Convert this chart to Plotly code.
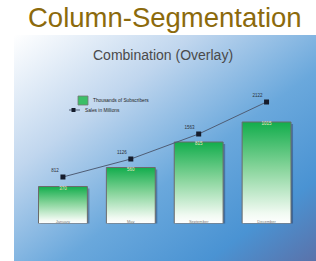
import base64
import plotly.graph_objects as go

categories = ["January", "May", "September", "December"]
subscribers = [370, 560, 815, 1015]          # Thousands of Subscribers (bars)
sales = [812, 1126, 1563, 2122]              # Sales in Millions (line)
sales_labels = ["812", "1126", "1563", "2122"]
sub_labels = ["370", "560", "815", "1015"]

W, H = 316, 261
def px(x):
    return x / W
def py(y):
    return 1 - y / H

xpos = list(range(len(categories)))
bw = 0.72

fig = go.Figure()

# shadows of bars
fig.add_trace(go.Bar(x=xpos, y=subscribers, base=[-20] * 4, width=bw, offset=-bw / 2 + 0.03,
                     marker=dict(color="rgba(25,35,70,0.35)", line=dict(width=0)),
                     hoverinfo="skip", showlegend=False))

# gradient bars
for i, v in enumerate(subscribers):
    fig.add_trace(go.Scatter(
        x=[i - bw / 2, i + bw / 2, i + bw / 2, i - bw / 2, i - bw / 2],
        y=[0, 0, v, v, 0], mode="lines", fill="toself",
        fillgradient=dict(type="vertical",
                          colorscale=[[0, "#ffffff"], [0.1, "#f1faf2"], [0.55, "#86d49a"], [1, "#12ad4c"]]),
        line=dict(color="#6b6b6b", width=1), hoverinfo="skip", showlegend=False))

# bar value labels
fig.add_trace(go.Scatter(x=xpos, y=subscribers, mode="text", text=sub_labels,
                         textposition="bottom center",
                         textfont=dict(size=4.5, color="#efe7c2", family="Liberation Sans"),
                         hoverinfo="skip", showlegend=False))
# category labels
fig.add_trace(go.Scatter(x=xpos, y=[0] * 4, mode="text", text=categories,
                         textposition="top center",
                         textfont=dict(size=4, color="#7a7a7a", family="Liberation Sans"),
                         hoverinfo="skip", showlegend=False))

# line on secondary axis
fig.add_trace(go.Scatter(x=xpos, y=sales, mode="lines+markers+text", text=sales_labels,
                         textposition="top left",
                         textfont=dict(size=4.5, color="#2a2f3a", family="Liberation Sans"),
                         line=dict(color="#4f5d75", width=1),
                         marker=dict(symbol="square", size=5, color="#151c2c"),
                         yaxis="y2", hoverinfo="skip", showlegend=False))

svg = ('<svg xmlns="http://www.w3.org/2000/svg" width="302" height="226" viewBox="0 0 302 226" '
       'preserveAspectRatio="none"><defs><linearGradient id="g" x1="0" y1="0" x2="1" y2="1">'
       '<stop offset="0" stop-color="#ffffff"/>'
       '<stop offset="0.3" stop-color="#c0d6ee"/>'
       '<stop offset="0.58" stop-color="#6aa8dc"/>'
       '<stop offset="0.82" stop-color="#4a93d3"/>'
       '<stop offset="1" stop-color="#5a72aa"/>'
       '</linearGradient></defs><rect width="302" height="226" fill="url(#g)"/></svg>')
src = "data:image/svg+xml;base64," + base64.b64encode(svg.encode()).decode()

x0, x1 = 29, 300.5
y_bot, y_top = 223.5, 85

fig.update_layout(
    width=W, height=H, margin=dict(l=0, r=0, t=0, b=0),
    paper_bgcolor="white", plot_bgcolor="rgba(0,0,0,0)",
    xaxis=dict(domain=[px(x0), px(x1)], range=[-0.5, 3.5], visible=False, fixedrange=True),
    yaxis=dict(domain=[py(y_bot), py(y_top)], range=[0, 1385], visible=False, fixedrange=True),
    yaxis2=dict(domain=[py(y_bot), py(y_top)], range=[0, 2418], overlaying="y", visible=False,
                fixedrange=True),
    images=[dict(source=src, xref="paper", yref="paper", x=px(14), y=py(35),
                 sizex=1 - px(14), sizey=py(35), sizing="stretch",
                 layer="below", xanchor="left", yanchor="top")],
    showlegend=False,
    annotations=[
        dict(text="Column-Segmentation", x=px(165), y=py(17.5), xref="paper", yref="paper",
             showarrow=False, xanchor="center", yanchor="middle",
             font=dict(size=27.5, color="#8c6a0c", family="Liberation Sans, Arial, sans-serif")),
        dict(text="Combination (Overlay)", x=px(162.5), y=py(55), xref="paper", yref="paper",
             showarrow=False, xanchor="center", yanchor="middle",
             font=dict(size=14, color="#4a4a4a", family="Liberation Sans, Arial, sans-serif")),
        dict(text="Thousands of Subscribers", x=px(91), y=py(100.5), xref="paper", yref="paper",
             showarrow=False, xanchor="left", yanchor="middle",
             font=dict(size=4.8, color="#1e1e1e", family="Liberation Sans")),
        dict(text="Sales in Millions", x=px(83), y=py(110), xref="paper", yref="paper",
             showarrow=False, xanchor="left", yanchor="middle",
             font=dict(size=4.8, color="#1e1e1e", family="Liberation Sans")),
    ],
    shapes=[
        dict(type="rect", xref="paper", yref="paper", x0=px(78), x1=px(88), y0=py(105), y1=py(96),
             fillcolor="#3cbf68", line=dict(color="#777777", width=0.8)),
        dict(type="line", xref="paper", yref="paper", x0=px(69), x1=px(80), y0=py(110), y1=py(110),
             line=dict(color="#4f5d75", width=1)),
        dict(type="rect", xref="paper", yref="paper", x0=px(71.5), x1=px(75.5), y0=py(112), y1=py(108),
             fillcolor="#151c2c", line=dict(width=0)),
    ],
)

# remove the page's default 8px body margin so the figure fills the window exactly
fig.write_html("out.html",
               config={"displayModeBar": False, "staticPlot": True},
               post_script="document.body.style.margin='0';document.body.style.overflow='hidden';")
